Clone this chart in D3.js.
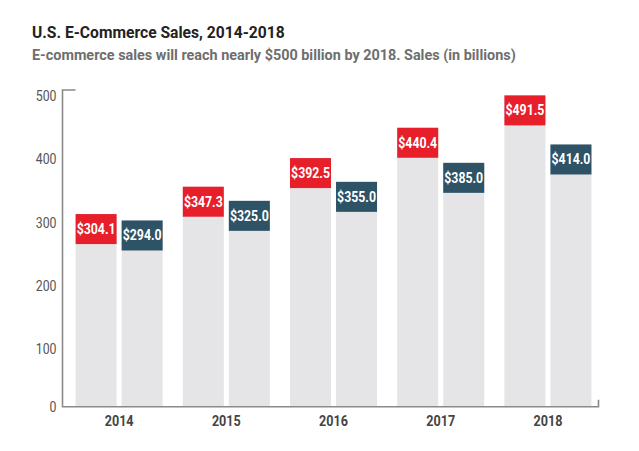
<!DOCTYPE html>
<html>
<head>
<meta charset="utf-8">
<script src="https://cdn.jsdelivr.net/npm/d3@7"></script>
<style>
  html, body { margin: 0; padding: 0; background: #fff; }
  svg { display: block; }
  text { font-family: "Roboto", "Liberation Sans", sans-serif; }
</style>
</head>
<body>
<svg id="chart" width="639" height="451"></svg>
<script>
// ---- data ----
const years = ["2014", "2015", "2016", "2017", "2018"];
const seriesNames = ["Total", "Retail"];
const totalSales = [304.1, 347.3, 392.5, 440.4, 491.5];
const retailSales = [294.0, 325.0, 355.0, 385.0, 414.0];
const yTicks = [0, 100, 200, 300, 400, 500];
const titleText = "U.S. E-Commerce Sales, 2014-2018";
const subtitleText = "E-commerce sales will reach nearly $500 billion by 2018. Sales (in billions)";

const colors = { Total: "#e61f2b", Retail: "#2e5266" };

(function () {
const svg = d3.select("#chart");
const mLeft = 62.5, mRight = 598.5, mTop = 90, mBottom = 406.7;

// condense text horizontally (emulates a condensed face)
function condense(sel, sx) {
  sel.each(function () {
    const t = d3.select(this);
    const x = +t.attr("x") || 0, yy = +t.attr("y") || 0;
    t.attr("x", 0).attr("y", 0)
     .attr("transform", `translate(${x},${yy}) scale(${sx},1)`);
  });
}

const rows = years.map((yr, i) => ({
  year: yr,
  values: [
    { key: "Total", value: totalSales[i] },
    { key: "Retail", value: retailSales[i] }
  ]
}));

const x0 = d3.scaleBand().domain(years).range([mLeft, mRight])
  .paddingInner(0.188).paddingOuter(0.094).align(0.65);
const x1 = d3.scaleBand().domain(seriesNames).range([0, x0.bandwidth()])
  .paddingInner(0.109).paddingOuter(0);
const y = d3.scaleLinear().domain([0, 500]).range([mBottom, mTop]);

// Title
svg.append("text").attr("x", 32).attr("y", 37.5)
  .attr("font-size", 17).attr("font-weight", "bold").attr("fill", "#222")
  .text(titleText).call(condense, 0.92);
svg.append("text").attr("x", 32).attr("y", 59.5)
  .attr("font-size", 15.5).attr("font-weight", "bold").attr("fill", "#6e6e6e")
  .text(subtitleText).call(condense, 0.93);

// Bars
const boxH = 30;
const g = svg.append("g");
const groups = g.selectAll("g.grp").data(rows).join("g")
  .attr("class", "grp")
  .attr("transform", d => `translate(${x0(d.year)},0)`);

groups.selectAll("rect.bg").data(d => d.values).join("rect")
  .attr("class", "bg")
  .attr("x", d => x1(d.key))
  .attr("width", x1.bandwidth())
  .attr("y", d => y(d.value))
  .attr("height", d => y(0) - y(d.value))
  .attr("fill", "#e5e5e7");

groups.selectAll("rect.box").data(d => d.values).join("rect")
  .attr("class", "box")
  .attr("x", d => x1(d.key))
  .attr("width", x1.bandwidth())
  .attr("y", d => y(d.value))
  .attr("height", boxH)
  .attr("fill", d => colors[d.key]);

groups.selectAll("text.lbl").data(d => d.values).join("text")
  .attr("class", "lbl")
  .attr("x", d => x1(d.key) + x1.bandwidth() / 2)
  .attr("y", d => y(d.value) + boxH / 2 + 5)
  .attr("text-anchor", "middle")
  .attr("font-size", 14).attr("font-weight", "bold").attr("fill", "#fff")
  .text(d => "$" + d3.format(".1f")(d.value))
  .call(condense, 0.88);

// Axes
const axisColor = "#8a8a8a";
const yAxis = svg.append("g").attr("transform", `translate(${mLeft},0)`)
  .call(d3.axisLeft(y).tickValues(yTicks).tickSize(0).tickPadding(6));
yAxis.select(".domain").remove();
yAxis.selectAll("text")
  .attr("font-size", 14).attr("fill", "#555")
  .attr("dy", null)
  .attr("y", d => d === 0 ? 5 : 10.5)
  .call(condense, 0.88);

const xAxis = svg.append("g").attr("transform", `translate(0,${mBottom})`)
  .call(d3.axisBottom(x0).tickSize(0).tickPadding(12));
xAxis.select(".domain").remove();
xAxis.selectAll("text")
  .attr("font-size", 14).attr("font-weight", "bold").attr("fill", "#444")
  .attr("dy", null).attr("y", 19)
  .call(condense, 0.9);

const frame = d3.path();
frame.moveTo(mLeft + 13, mTop);
frame.lineTo(mLeft, mTop);
frame.lineTo(mLeft, mBottom);
frame.lineTo(mRight, mBottom);
frame.lineTo(mRight, mBottom - 7);
svg.append("path").attr("d", frame.toString())
  .attr("fill", "none").attr("stroke", axisColor).attr("stroke-width", 1.6);
})();
</script>
</body>
</html>
